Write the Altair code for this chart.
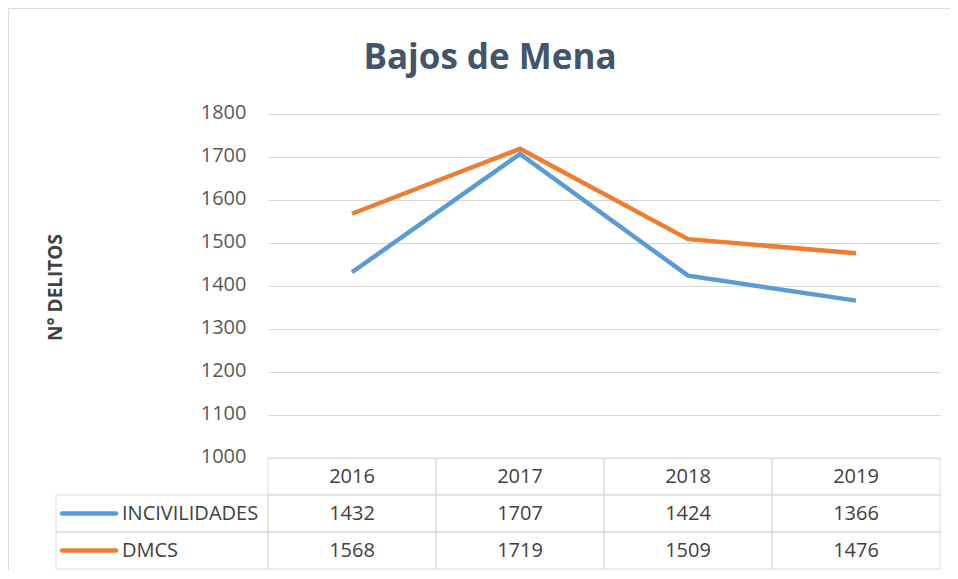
import altair as alt
import pandas as pd

# ---- data ----
years = ["2016", "2017", "2018", "2019"]
series = ["INCIVILIDADES", "DMCS"]
incivilidades = [1432, 1707, 1424, 1366]
dmcs = [1568, 1719, 1509, 1476]
y_ticks = [1000, 1100, 1200, 1300, 1400, 1500, 1600, 1700, 1800]
title_text = "Bajos de Mena"
y_title = "N° DELITOS"
colors = ["#5B9BD5", "#ED7D31"]

rows = ["hdr"] + series

long_df = pd.DataFrame(
    [{"year": y, "serie": "INCIVILIDADES", "value": v} for y, v in zip(years, incivilidades)]
    + [{"year": y, "serie": "DMCS", "value": v} for y, v in zip(years, dmcs)]
)

table_df = pd.DataFrame(
    [{"year": y, "row": "hdr", "label": y} for y in years]
    + [{"year": r["year"], "row": r["serie"], "label": str(r["value"])} for _, r in long_df.iterrows()]
)
rowlab_df = pd.DataFrame({"row": series, "serie": series})
one_df = pd.DataFrame({"a": [0]})

FONT = "Open Sans"
W, H = 672, 344
TABLE_RANGE = [344, 455]

color_enc = alt.Color("serie:N", scale=alt.Scale(domain=series, range=colors), legend=None)
x_point = alt.X("year:N", scale=alt.Scale(type="point", padding=0.5, domain=years), axis=None)
x_band = alt.X("year:N", scale=alt.Scale(type="band", paddingInner=0, paddingOuter=0, domain=years), axis=None)
y_row_point = alt.Y("row:N", scale=alt.Scale(type="point", padding=0.5, domain=rows, range=TABLE_RANGE), axis=None)
y_row_band = alt.Y("row:N", scale=alt.Scale(type="band", paddingInner=0, paddingOuter=0, domain=rows, range=TABLE_RANGE), axis=None)

lines = alt.Chart(long_df).mark_line(strokeWidth=4.5).encode(
    x=x_point,
    y=alt.Y(
        "value:Q",
        scale=alt.Scale(domain=[1000, 1800], nice=False, zero=False),
        axis=alt.Axis(
            values=y_ticks,
            format="d",
            title=y_title,
            ticks=False,
            tickSize=0,
            domain=False,
            grid=True,
            gridColor="#d9d9d9",
            gridWidth=1,
            labelFont=FONT,
            labelFontSize=20,
            labelColor="#595959",
            labelPadding=22,
            labelOffset=-2,
            titleFont=FONT,
            titleFontSize=19,
            titleFontWeight="bold",
            titleColor="#404040",
            titleX=-213,
            titleY=173,
            titleAngle=270,
            titleAlign="center",
            titleBaseline="middle",
        ),
    ),
    color=color_enc,
    order=alt.Order("serie_order:Q"),
).transform_calculate(serie_order="datum.serie == 'DMCS' ? 1 : 0")

cells = alt.Chart(table_df).mark_rect(fillOpacity=0, stroke="#d9d9d9", strokeWidth=1).encode(
    x=x_band, y=y_row_band
)

cell_text = alt.Chart(table_df).mark_text(
    font=FONT, fontSize=20, color="#404040", baseline="middle", align="center"
).encode(x=x_point, y=y_row_point, text="label:N")

label_cells = alt.Chart(rowlab_df).mark_rect(fillOpacity=0, stroke="#d9d9d9", strokeWidth=1).encode(
    x=alt.value(-212), x2=alt.value(0), y=y_row_band
)

legend_lines = alt.Chart(rowlab_df).mark_rule(strokeWidth=4.5, strokeCap="round").encode(
    x=alt.value(-206), x2=alt.value(-152), y=y_row_point, color=color_enc
)

row_labels = alt.Chart(rowlab_df).mark_text(
    font=FONT, fontSize=20, color="#404040", align="left", baseline="middle"
).encode(x=alt.value(-146), y=y_row_point, text="row:N")

frame_top = alt.Chart(one_df).mark_rule(stroke="#d9dde3", strokeWidth=1).encode(
    x=alt.value(-259.5), x2=alt.value(700), y=alt.value(-105.5)
)
frame_left = alt.Chart(one_df).mark_rule(stroke="#d9dde3", strokeWidth=1).encode(
    x=alt.value(-259.5), y=alt.value(-105.5), y2=alt.value(470)
)

title = alt.Chart(one_df).mark_text(
    text=title_text, font=FONT, fontSize=35, fontWeight="bold", color="#44546A",
    align="center", baseline="middle"
).encode(x=alt.value(222), y=alt.value(-56))

chart = alt.layer(
    frame_top, frame_left, cells, label_cells, lines, cell_text, legend_lines, row_labels, title
).resolve_scale(
    x="independent", y="independent"
).properties(
    width=W,
    height=H,
    autosize=alt.AutoSizeParams(type="none"),
    padding={"left": 260, "top": 106, "right": 10, "bottom": 112},
    background="white",
).configure_view(stroke=None)

chart.save("out.html", embed_options={"renderer": "svg", "actions": False})
